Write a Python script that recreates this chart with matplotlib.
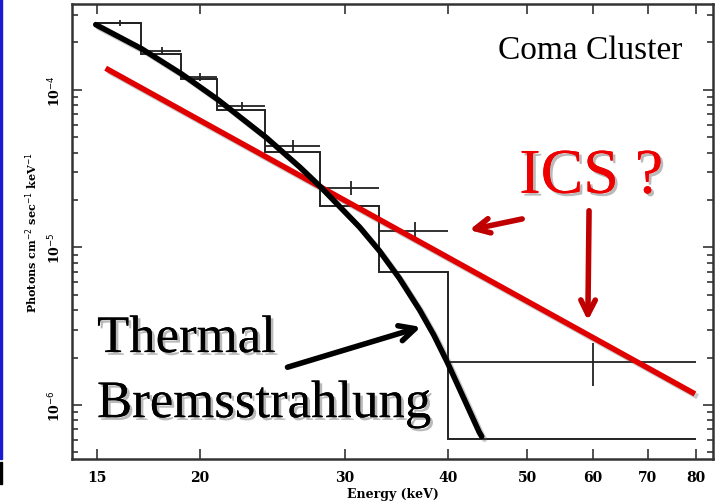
import numpy as np
import matplotlib
matplotlib.use("Agg")
import matplotlib.pyplot as plt
import matplotlib.patheffects as pe
from matplotlib.patches import Rectangle
from matplotlib.ticker import FixedLocator, NullLocator, LogLocator, NullFormatter

# energy bins (keV) and spectrum values (photons cm^-2 s^-1 keV^-1)
bin_edges = [15, 17, 19, 21, 24, 28, 33, 40, 80]
data_flux = [2.65e-4, 1.77e-4, 1.205e-4, 7.88e-5, 4.43e-5, 2.38e-5, 1.28e-5, 1.88e-6]
data_lo = [2.54e-4, 1.67e-4, 1.14e-4, 7.43e-5, 4.06e-5, 2.15e-5, 1.14e-5, 1.31e-6]
data_hi = [2.77e-4, 1.88e-4, 1.28e-4, 8.35e-5, 4.84e-5, 2.64e-5, 1.44e-5, 2.48e-6]
model_flux = [2.65e-4, 1.69e-4, 1.175e-4, 7.5e-5, 4.04e-5, 1.84e-5, 6.99e-6, 6.08e-7]

# thermal bremsstrahlung curve
thermal_e = [14.96, 17.02, 19.03, 21.04, 24.09, 26.44, 28.03, 31.26, 33.04, 34.95,
             37.0, 38.5, 40.0, 42.1, 43.69, 44.0]
thermal_f = [2.598e-4, 1.821e-4, 1.26e-4, 8.69e-5, 4.99e-5, 3.25e-5, 2.43e-5, 1.349e-5,
             9.55e-6, 6.38e-6, 4.0e-6, 2.77e-6, 1.85e-6, 1.03e-6, 6.73e-7, 6.31e-7]

# inverse compton power law
ics_e = [15.38, 79.85]
ics_f = [1.373e-4, 1.175e-6]

x_ticks = [15, 20, 30, 40, 50, 60, 70, 80]
y_ticks = [1e-6, 1e-5, 1e-4]
y_ticklabels = ["10$^{-6}$", "10$^{-5}$", "10$^{-4}$"]

edges = np.array(bin_edges)
centers = (edges[:-1] + edges[1:]) / 2
half = (edges[1:] - edges[:-1]) / 2
flux = np.array(data_flux)
yerr = [flux - np.array(data_lo), np.array(data_hi) - flux]

fig = plt.figure(figsize=(7.23, 5.02), dpi=100)
ax = fig.add_axes([0.0996, 0.0837, 0.8866, 0.9063])
ax.set_xscale("log")
ax.set_yscale("log")
ax.set_xlim(14, 84)
ax.set_ylim(4.54e-7, 3.51e-4)

# data and model histogram
ax.stairs(model_flux, bin_edges, baseline=None, color="#222222", lw=1.4)
ax.errorbar(centers, flux, xerr=half, yerr=yerr, fmt="none", ecolor="#222222",
            elinewidth=1.3, capsize=0)

shadow = [pe.SimpleLineShadow(offset=(2, -2), shadow_color="0.3", alpha=0.3), pe.Normal()]
ax.plot(ics_e, ics_f, color="#e00000", lw=4, solid_capstyle="butt", path_effects=shadow)
ax.plot(thermal_e, thermal_f, color="black", lw=4, solid_capstyle="round",
        solid_joinstyle="round", path_effects=shadow)

# axes styling
for s in ax.spines.values():
    s.set_linewidth(1.8)
    s.set_color("#333333")
ax.xaxis.set_major_locator(FixedLocator(x_ticks))
ax.xaxis.set_minor_locator(NullLocator())
ax.set_xticklabels([str(v) for v in x_ticks])
ax.yaxis.set_major_locator(FixedLocator(y_ticks))
ax.yaxis.set_minor_locator(LogLocator(base=10, subs=np.arange(2, 10)))
ax.yaxis.set_minor_formatter(NullFormatter())
ax.set_yticklabels(y_ticklabels, rotation=90, va="center")
ax.tick_params(which="both", direction="in", top=True, right=True, color="#333333", width=1.2)
ax.tick_params(which="major", length=7)
ax.tick_params(which="minor", length=4)
ax.tick_params(axis="x", labelsize=10, pad=8)
ax.tick_params(axis="y", labelsize=9, pad=6)
for lab in ax.get_xticklabels() + ax.get_yticklabels():
    lab.set_fontfamily("DejaVu Serif")
    lab.set_fontweight("bold")

ax.set_xlabel("Energy (keV)", fontsize=9, fontweight="bold", family="DejaVu Serif", labelpad=2)
ax.set_ylabel("Photons cm$^{-2}$ sec$^{-1}$ keV$^{-1}$", fontsize=8, fontweight="bold",
              family="DejaVu Serif", labelpad=5)

# annotations
tshadow = [pe.withSimplePatchShadow(offset=(2, -2), shadow_rgbFace="0.4", alpha=0.45), pe.Normal()]
ax.text(0.808, 0.90, "Coma Cluster", transform=ax.transAxes, ha="center", va="center",
        fontsize=24, family="Liberation Serif", color="black")
ax.text(0.81, 0.618, "ICS ?", transform=ax.transAxes, ha="center", va="center",
        fontsize=46, family="Liberation Serif", color="#ee0000", path_effects=tshadow)
ax.text(0.039, 0.235, "Thermal", transform=ax.transAxes, ha="left", va="baseline",
        fontsize=38, family="Liberation Serif", color="black", path_effects=tshadow)
ax.text(0.039, 0.092, "Bremsstrahlung", transform=ax.transAxes, ha="left", va="baseline",
        fontsize=38, family="Liberation Serif", color="black", path_effects=tshadow)

ax.annotate("", xy=(37.13, 3.13e-6), xytext=(25.57, 1.736e-6),
            arrowprops=dict(arrowstyle="->", lw=4, color="black", mutation_scale=28,
                            shrinkA=0, shrinkB=0))
ax.annotate("", xy=(42.49, 1.29e-5), xytext=(49.27, 1.517e-5),
            arrowprops=dict(arrowstyle="->", lw=4, color="#c00000", mutation_scale=26,
                            shrinkA=0, shrinkB=0))
ax.annotate("", xy=(59.2, 3.43e-6), xytext=(59.4, 1.71e-5),
            arrowprops=dict(arrowstyle="->", lw=4, color="#c00000", mutation_scale=26,
                            shrinkA=0, shrinkB=0))

# slide edge strip
fig.patches.append(Rectangle((0, 1 - 460 / 502), 2 / 723, 460 / 502, transform=fig.transFigure,
                             color="#1a1ad0", zorder=0))
fig.patches.append(Rectangle((0, 1 - 485 / 502), 2 / 723, 22 / 502, transform=fig.transFigure,
                             color="black", zorder=0))

fig.savefig("out.png", dpi=100)
